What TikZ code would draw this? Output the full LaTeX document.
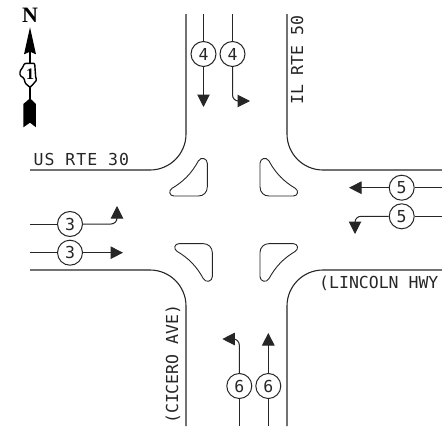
\documentclass[tikz,border=0pt]{standalone}
\usepackage{fontspec}
\usetikzlibrary{arrows.meta}
\newfontfamily\cadfont[LetterSpace=6]{DejaVu Sans Mono}
\newfontfamily\cadtight{DejaVu Sans Mono}
\newfontfamily\northfont{Liberation Serif}
\tikzset{
  x=1pt,y=-1pt,
  road/.style={line width=1.1pt,black!85},
  flow/.style={line width=1pt,black!85,-{Triangle[length=12.5pt,width=12.5pt]}},
  feed/.style={line width=1pt,black!85},
  num/.style={circle,draw=black!85,line width=1pt,minimum size=25pt,inner sep=0pt,font=\fontsize{16.5}{16.5}\cadtight,text=black!85},
  lab/.style={inner sep=0pt,font=\fontsize{16.5}{16.5}\cadfont,text=black!85},
  labt/.style={inner sep=0pt,font=\fontsize{16.5}{16.5}\cadtight,text=black!85},
}
\begin{document}
\begin{tikzpicture}
\useasboundingbox (0,0) rectangle (442,434);
% roads
\draw[road] (186,14) -- (186,134) arc[start angle=0,end angle=90,x radius=36pt,y radius=-36pt] -- (30,170);
\draw[road] (287,14) -- (287,134) arc[start angle=180,end angle=90,x radius=36pt,y radius=-36pt] -- (442,170);
\draw[road] (30,270) -- (150,270) arc[start angle=90,end angle=0,x radius=36pt,y radius=36pt] -- (186,426);
\draw[road] (442,270) -- (323,270) arc[start angle=90,end angle=180,x radius=36pt,y radius=36pt] -- (287,426);
% islands
\begin{scope}[shift={(150,140)},x=.3333pt,y=-.3333pt]
\draw[line width=.9pt,black!85] (172,70) -- (172,140) .. controls (172,158) and (160,168) .. (145,168) -- (72,168) .. controls (58,168) and (55,152) .. (66,145) .. controls (100,125) and (125,100) .. (145,63) .. controls (153,49) and (172,55) .. (172,70) -- cycle;
\draw[line width=.9pt,black!85] (330,70) -- (330,140) .. controls (330,158) and (342,168) .. (357,168) -- (430,168) .. controls (444,168) and (447,152) .. (436,145) .. controls (402,125) and (377,100) .. (357,63) .. controls (349,49) and (330,55) .. (330,70) -- cycle;
\draw[line width=.9pt,black!85] (187,396) -- (187,338) .. controls (187,322) and (175,311) .. (160,311) -- (87,311) .. controls (73,311) and (70,327) .. (81,334) .. controls (115,354) and (140,379) .. (160,416) .. controls (168,430) and (187,424) .. (187,410) -- cycle;
\draw[line width=.9pt,black!85] (330,396) -- (330,338) .. controls (330,322) and (342,311) .. (357,311) -- (430,311) .. controls (444,311) and (447,327) .. (436,334) .. controls (402,354) and (377,379) .. (357,416) .. controls (349,430) and (330,424) .. (330,410) -- cycle;
\end{scope}
% numbered circles
\node[num] (n4a) at (203.5,54) {4};
\node[num] (n4b) at (232.5,54) {4};
\node[num] (n3a) at (70,224) {3};
\node[num] (n3b) at (70,252.7) {3};
\node[num] (n5a) at (401.7,187.7) {5};
\node[num] (n5b) at (401.7,216.3) {5};
\node[num] (n6a) at (239.3,386) {6};
\node[num] (n6b) at (268.3,386) {6};
% free ends
\coordinate (t4a) at (203.5,14); \coordinate (e4a) at (203.5,107);
\coordinate (t4b) at (232.5,14); \coordinate (c4b) at (232.5,101); \coordinate (e4b) at (250,101);
\coordinate (t3a) at (30,224); \coordinate (c3a) at (117,224); \coordinate (e3a) at (117,206);
\coordinate (t3b) at (30,252.7); \coordinate (e3b) at (123,252.7);
\coordinate (t5a) at (442,187.7); \coordinate (e5a) at (349,187.7);
\coordinate (t5b) at (442,216.3); \coordinate (c5b) at (355,216.3); \coordinate (e5b) at (355,234);
\coordinate (t6a) at (239.3,426); \coordinate (c6a) at (239.3,339); \coordinate (e6a) at (222.3,339);
\coordinate (t6b) at (268.3,426); \coordinate (e6b) at (268.3,333);
% connectors
\draw[feed] (t4a) -- (n4a); \draw[flow] (n4a) -- (e4a);
\draw[feed] (t4b) -- (n4b); \draw[flow,rounded corners=6pt] (n4b) -- (c4b) -- (e4b);
\draw[feed] (t3a) -- (n3a); \draw[flow,rounded corners=6pt] (n3a) -- (c3a) -- (e3a);
\draw[feed] (t3b) -- (n3b); \draw[flow] (n3b) -- (e3b);
\draw[feed] (t5a) -- (n5a); \draw[flow] (n5a) -- (e5a);
\draw[feed] (t5b) -- (n5b); \draw[flow,rounded corners=6pt] (n5b) -- (c5b) -- (e5b);
\draw[feed] (t6a) -- (n6a); \draw[flow,rounded corners=6pt] (n6a) -- (c6a) -- (e6a);
\draw[feed] (t6b) -- (n6b); \draw[flow] (n6b) -- (e6b);
% labels
\node[lab,anchor=base west] (l30) at (33.5,165.7) {US RTE 30};
\node[labt,anchor=base west] (llin) at (319,288) {(LINCOLN HWY};
\node[labt,anchor=base west,rotate=90] (l50) at (303,105) {IL RTE 50};
\node[labt,anchor=base west,rotate=90] (lcic) at (178,424) {(CICERO AVE)};
% north arrow
\begin{scope}[shift={(0,0)},x=.3333pt,y=-.3333pt]
\fill[black] (90,82) -- (108,163) -- (90,155) -- (72,163) -- cycle;
\draw[line width=1.2pt,black] (90,150) -- (90,190);
\draw[line width=1.2pt,black] (90,260) -- (90,300);
\draw[line width=1.4pt,black,rounded corners=1pt,fill=white] (74,190) -- (104,190) -- (107,232) -- (110,240) -- (100,252) -- (90,262) -- (76,250) -- (72,235) -- (60,226) -- (60,214) -- (68,202) -- cycle;
\fill[black] (90,295) -- (108,312) -- (108,382) -- (90,368) -- (70,382) -- (70,312) -- cycle;
\end{scope}
\node[inner sep=0pt,font=\fontsize{16}{16}\northfont\bfseries] (ilone) at (30,74.5) {1};
\node[inner sep=0pt,font=\fontsize{22}{22}\northfont\bfseries] (north) at (30,15) {N};
\end{tikzpicture}
\end{document}
